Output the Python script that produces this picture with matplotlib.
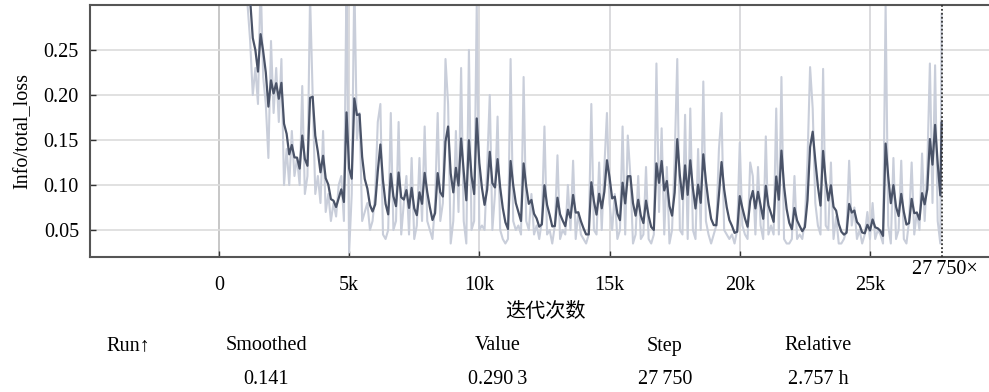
import numpy as np
import matplotlib
matplotlib.use("Agg")
import matplotlib.pyplot as plt

plt.rcParams['font.family'] = ['Liberation Serif', 'DejaVu Serif']

# ---------------- data ----------------
steps_start = 1000
steps_step = 100
raw_values = [
    0.36, 0.30, 0.26, 0.20, 0.23, 0.19, 0.33, 0.22, 0.19, 0.13,      # 1000-1900
    0.26, 0.18, 0.23, 0.17, 0.24, 0.10, 0.14, 0.10, 0.16, 0.11,      # 2000-2900
    0.13, 0.10, 0.21, 0.09, 0.11, 0.31, 0.20, 0.09, 0.11, 0.08,      # 3000-3900
    0.16, 0.07, 0.09, 0.06, 0.08, 0.065, 0.10, 0.11, 0.06, 0.33,     # 4000-4900
    0.025, 0.09, 0.33, 0.15, 0.18, 0.06, 0.07, 0.08, 0.05, 0.06,     # 5000-5900
    0.09, 0.17, 0.19, 0.045, 0.04, 0.05, 0.18, 0.05, 0.06, 0.17,     # 6000-6900
    0.045, 0.08, 0.11, 0.045, 0.13, 0.04, 0.055, 0.13, 0.06, 0.165,  # 7000-7900
    0.06, 0.05, 0.04, 0.08, 0.18, 0.06, 0.08, 0.24, 0.19, 0.035,     # 8000-8900
    0.06, 0.16, 0.07, 0.23, 0.06, 0.035, 0.25, 0.05, 0.06, 0.30,     # 9000-9900
    0.05, 0.055, 0.05, 0.12, 0.20, 0.05, 0.09, 0.176, 0.05, 0.04,    # 10000-10900
    0.035, 0.04, 0.24, 0.06, 0.05, 0.055, 0.045, 0.22, 0.06, 0.05,   # 11000-11900
    0.09, 0.045, 0.055, 0.04, 0.06, 0.165, 0.045, 0.05, 0.035, 0.055,# 12000-12900
    0.133, 0.04, 0.05, 0.045, 0.10, 0.05, 0.127, 0.04, 0.07, 0.045,  # 13000-13900
    0.04, 0.035, 0.045, 0.19, 0.05, 0.045, 0.125, 0.05, 0.12, 0.18,  # 14000-14900
    0.08, 0.05, 0.09, 0.04, 0.05, 0.165, 0.045, 0.155, 0.11, 0.035,  # 15000-15900
    0.045, 0.11, 0.04, 0.045, 0.12, 0.04, 0.035, 0.045, 0.235, 0.07, # 16000-16900
    0.163, 0.045, 0.12, 0.035, 0.05, 0.13, 0.24, 0.05, 0.045, 0.178, # 17000-17900
    0.04, 0.185, 0.05, 0.04, 0.14, 0.05, 0.215, 0.06, 0.045, 0.035,  # 18000-18900
    0.045, 0.055, 0.14, 0.18, 0.05, 0.045, 0.04, 0.045, 0.035, 0.05, # 19000-19900
    0.147, 0.055, 0.045, 0.04, 0.125, 0.11, 0.045, 0.12, 0.055, 0.04,# 20000-20900
    0.154, 0.045, 0.055, 0.045, 0.185, 0.045, 0.22, 0.04, 0.035, 0.035, # 21000-21900
    0.04, 0.11, 0.04, 0.045, 0.04, 0.06, 0.127, 0.231, 0.185, 0.08,  # 22000-22900
    0.055, 0.045, 0.229, 0.055, 0.05, 0.125, 0.04, 0.065, 0.035, 0.035, # 23000-23900
    0.04, 0.05, 0.127, 0.055, 0.075, 0.04, 0.05, 0.035, 0.045, 0.07, # 24000-24900
    0.04, 0.08, 0.04, 0.05, 0.045, 0.035, 0.30, 0.055, 0.035, 0.13,  # 25000-25900
    0.04, 0.05, 0.127, 0.04, 0.035, 0.06, 0.125, 0.045, 0.07, 0.05,  # 26000-26900
    0.135, 0.06, 0.12, 0.235, 0.08, 0.233, 0.06, 0.035,              # 27000-27700
]
last_step = 27750
last_value = 0.2903
smoothing_weight = 0.6

x_ticks = [0, 5000, 10000, 15000, 20000, 25000]
x_tick_labels = ['0', '5k', '10k', '15k', '20k', '25k']
y_ticks = [0.05, 0.10, 0.15, 0.20, 0.25]
y_tick_labels = ['0.05', '0.10', '0.15', '0.20', '0.25']

table_headers = ['Run\u2191', 'Smoothed', 'Value', 'Step', 'Relative']
table_values = ['', '0.141', '0.290\u20093', '27\u2009750', '2.757 h']
marker_label = '27\u2009750\u00d7'
x_label = '迭代次数'
y_label = 'Info/total_loss'

# ---------------- build series ----------------
steps = list(steps_start + steps_step * np.arange(len(raw_values))) + [last_step]
values = list(raw_values) + [last_value]
smoothed = []
acc = values[0]
for v in values:
    acc = smoothing_weight * acc + (1 - smoothing_weight) * v
    smoothed.append(acc)

FS = 14.5

# ---------------- figure ----------------
fig = plt.figure(figsize=(9.89, 3.92), dpi=100)
ax = fig.add_axes([90 / 989, 1 - 257 / 392, 1 - 90 / 989, (257 - 5) / 392])

ax.set_xlim(-4950, 29570)
ax.set_ylim(0.02, 0.30)

for t in x_ticks:
    ax.axvline(t, color='#bdbdbd' if t == 0 else '#d4d4d8', lw=1.2, zorder=0)
for t in y_ticks:
    ax.axhline(t, color='#dcdcdc', lw=1.2, zorder=0)

ax.plot(steps, values, color='#c9ceda', lw=1.5, zorder=2)
ax.plot(steps, smoothed, color='#4a5368', lw=1.6, zorder=3)

ax.axvline(last_step, color='#333333', lw=1.3, ls=(0, (1, 1.2)), zorder=4)

ax.set_xticks(x_ticks)
ax.set_xticklabels(x_tick_labels, fontsize=FS)
ax.set_yticks(y_ticks)
ax.set_yticklabels(y_tick_labels, fontsize=FS)
ax.tick_params(axis='x', direction='in', length=4, width=1, color='#333333', pad=14)
ax.tick_params(axis='y', direction='in', length=4, width=1, color='#333333', pad=8)

for side in ['top', 'bottom', 'left']:
    ax.spines[side].set_color('#555555')
    ax.spines[side].set_linewidth(1.5)
ax.spines['right'].set_visible(False)

ax.set_ylabel(y_label, fontsize=FS, labelpad=8)

fig.text(945 / 989, 1 - 270 / 392, marker_label, fontsize=FS, ha='center', va='center')

fig.text(545 / 989, 1 - 311 / 392, x_label, fontsize=FS, ha='center', va='center',
         family=['Noto Sans CJK SC', 'DejaVu Sans'])

header_x = [128, 266, 498, 665, 818]
for hx, h, v in zip(header_x, table_headers, table_values):
    fig.text(hx / 989, 1 - 346 / 392, h, fontsize=FS, ha='center', va='center')
    if v:
        fig.text(hx / 989, 1 - 379 / 392, v, fontsize=FS, ha='center', va='center')

fig.savefig('out.png', dpi=100)
